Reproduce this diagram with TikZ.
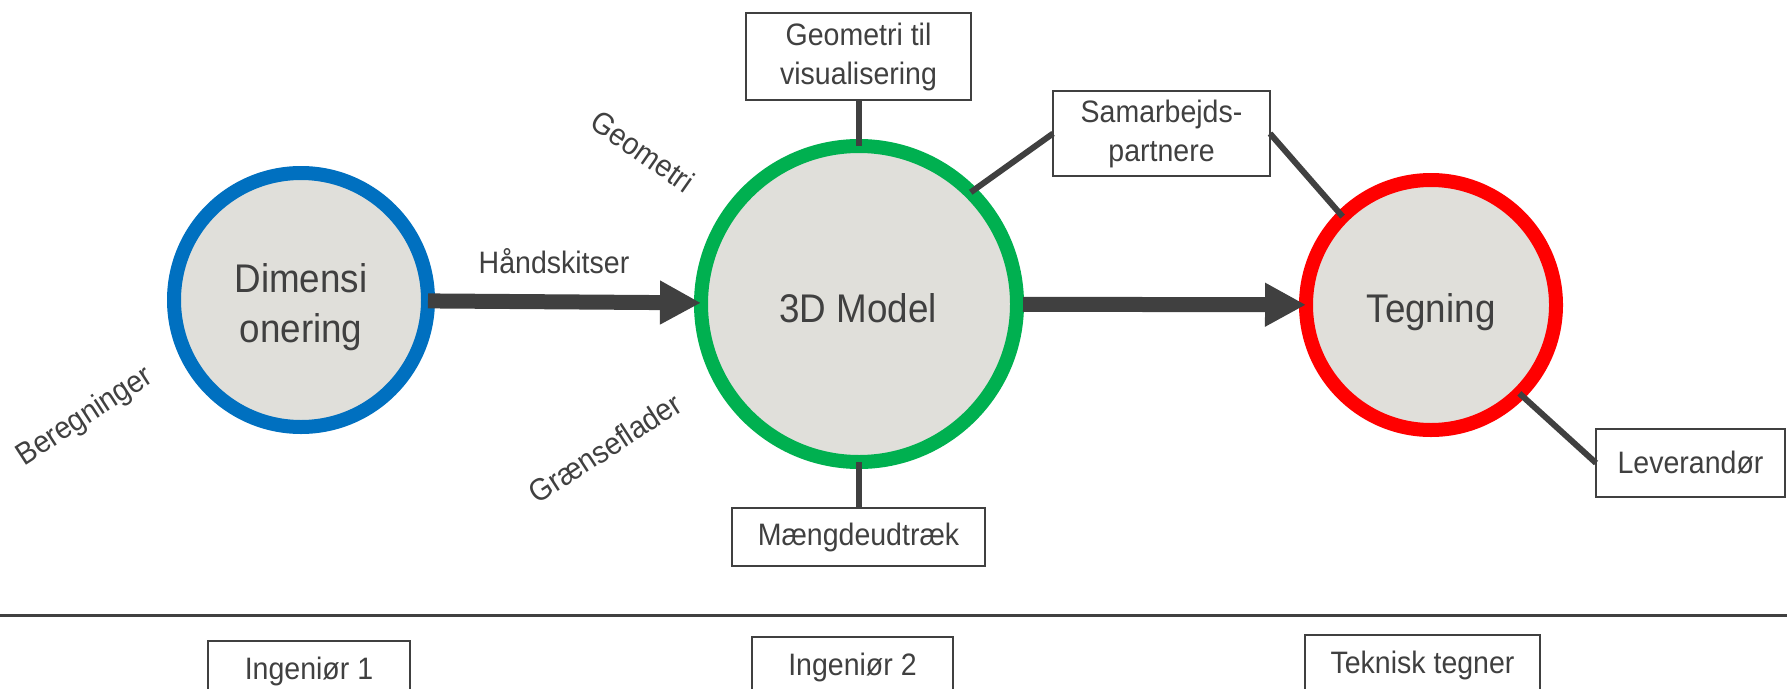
\documentclass[tikz,border=0pt]{standalone}
\usepackage{fontspec}
\setmainfont[FakeStretch=0.92]{Liberation Sans}
\usetikzlibrary{arrows.meta}
\definecolor{tx}{HTML}{404040}
\definecolor{cblue}{HTML}{0070C0}
\definecolor{cgreen}{HTML}{00B050}
\definecolor{cred}{HTML}{FF0000}
\definecolor{cfill}{HTML}{E0DFDA}
\tikzset{
  ring/.style={circle, draw=#1, line width=14pt, fill=cfill, inner sep=0pt, outer sep=0pt},
  bigtxt/.style={text=tx, inner sep=0pt, align=center, font=\fontsize{40}{50}\selectfont},
  box/.style={draw=tx, line width=2.5pt, fill=white, inner sep=0pt, outer sep=0pt,
    text=tx, align=center, font=\fontsize{31}{39}\selectfont},
  lbl/.style={text=tx, inner sep=0pt, font=\fontsize{31}{39}\selectfont},
  conn/.style={draw=tx, line width=6pt},
  bigarrow/.style={draw=tx, line width=15pt, -{Triangle[length=41pt,width=41pt]}, tx},
}
\begin{document}
\begin{tikzpicture}[x=1pt, y=-1pt]
\useasboundingbox (0,0) rectangle (1787,688);
\clip (0,0) rectangle (1787,688);

% circles
\node[ring=cblue, minimum size=254pt] (dim) at (301,300) {};
\node[ring=cgreen, minimum size=316pt] (model) at (859,304) {};
\node[ring=cred, minimum size=250pt] (tegn) at (1431,305) {};

% circle texts
\node[bigtxt, anchor=north] (dimtxt) at (301,263) {Dimensi\\onering};
\node[bigtxt, anchor=base] (modeltxt) at (858,322) {3D Model};
\node[bigtxt, anchor=base] (tegntxt) at (1431,322.5) {Tegning};

% boxes
\node[box, minimum width=225pt, minimum height=87pt] (geo) at (858.5,56.5) {Geometri til\\visualisering};
\node[box, minimum width=217pt, minimum height=85pt] (samar) at (1161.5,133.5) {Samarbejds-\\partnere};
\node[box, minimum width=253pt, minimum height=58pt] (maengde) at (858.5,537) {Mængdeudtræk};
\node[box, minimum width=189pt, minimum height=68pt] (lev) at (1690.5,463) {Leverandør};

% connectors
\draw[conn] (geo.south) -- (geo.south |- model.north);
\draw[conn] (maengde.north) -- (maengde.north |- model.south);
\draw[conn] (samar.west) -- (model.45);
\draw[conn] (samar.east) -- (tegn.135);
\draw[conn] (lev.west) -- (tegn.-45);

% arrows
\draw[bigarrow] (dim) -- (model);
\draw[bigarrow, shorten <=6pt] (model) -- (tegn);

% labels
\node[lbl, anchor=base] (hand) at (554,273) {Håndskitser};
\node[lbl, rotate=-35] (lgeom) at (643,151) {Geometri};
\node[lbl, rotate=33] (lber) at (85,417) {Beregninger};
\node[lbl, rotate=33] (lgr) at (605,448) {Grænseflader};

% separator
\coordinate (sepL) at (0,615);
\coordinate (sepR) at (1787,615);
\draw[draw=tx, line width=3pt] (sepL) -- (sepR);

% roles
\tikzset{role/.style={box, anchor=north, text height=24pt, text depth=8pt, inner ysep=14pt}}
\node[role, minimum width=202pt] (ing1) at (309,641) {Ingeniør 1};
\node[role, minimum width=201pt] (ing2) at (852.5,637) {Ingeniør 2};
\node[role, minimum width=235pt] (tek) at (1422.5,635) {Teknisk tegner};
\end{tikzpicture}
\end{document}
